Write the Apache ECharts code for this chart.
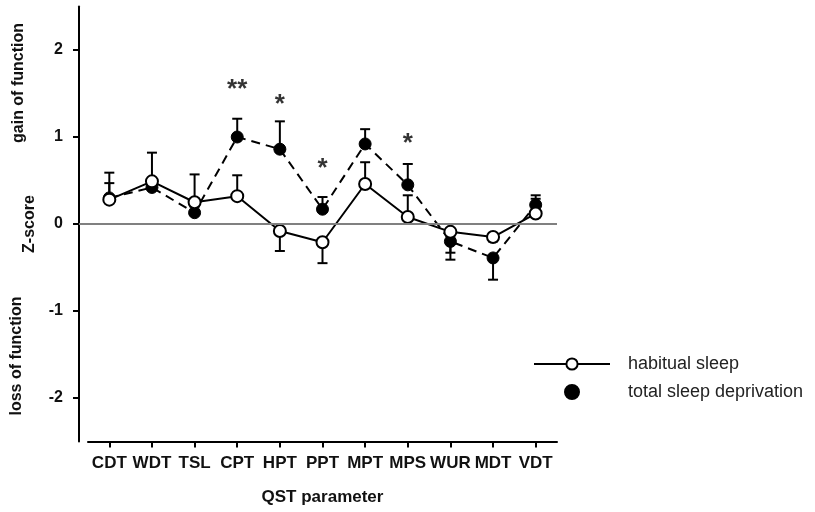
<!DOCTYPE html>
<html>
<head>
<meta charset="utf-8">
<script src="https://cdn.jsdelivr.net/npm/echarts@6/dist/echarts.min.js"></script>
<style>html,body{margin:0;padding:0;background:#fff}#c{width:815px;height:512px}</style>
</head>
<body>
<div id="c"></div>
<script>
const categories = ['CDT','WDT','TSL','CPT','HPT','PPT','MPT','MPS','WUR','MDT','VDT'];
const habitual = [0.28,0.49,0.25,0.32,-0.08,-0.21,0.46,0.08,-0.09,-0.15,0.12];
const habitualErr = [0.47,0.82,0.57,0.56,-0.31,-0.45,0.71,0.33,-0.33,-0.20,0.29];
const deprivation = [0.30,0.42,0.13,1.00,0.86,0.17,0.92,0.45,-0.20,-0.39,0.22];
const deprivationErr = [0.59,0.50,0.20,1.21,1.18,0.31,1.09,0.69,-0.41,-0.64,0.33];
const sigMarks = ['','','','**','*','*','','*','','',''];
const sigLevel = [null,null,null,1.61,1.44,0.70,null,0.99,null,null,null];
const yTicks = [-2,-1,0,1,2];
const yMin = -2.5, yMax = 2.5;

const FONT = 'Liberation Sans, Arial, sans-serif';

function errRender(params, api) {
  const x = api.value(0), m = api.value(1), e = api.value(2);
  const p0 = api.coord([x, m]);
  const p1 = api.coord([x, e]);
  const half = 5;
  return {
    type: 'group',
    children: [
      {type: 'line', shape: {x1: p0[0], y1: p0[1], x2: p1[0], y2: p1[1]}, style: {stroke: '#000', lineWidth: 2}},
      {type: 'line', shape: {x1: p1[0] - half, y1: p1[1], x2: p1[0] + half, y2: p1[1]}, style: {stroke: '#000', lineWidth: 2}}
    ]
  };
}

const sigData = [];
sigLevel.forEach((v, i) => {
  if (v !== null) sigData.push({value: [i, v], label: {formatter: sigMarks[i]}});
});

const chart = echarts.init(document.getElementById('c'), null, {renderer: 'canvas'});
chart.setOption({
  animation: false,
  backgroundColor: '#fff',
  textStyle: {fontFamily: FONT},
  grid: [
    {left: 79, right: 258, top: 6.5, height: 435},
    {left: 88, right: 258, top: 6.5, height: 435}
  ],
  xAxis: [
    {gridIndex: 0, type: 'value', min: 0, max: 1, show: false},
    {
      gridIndex: 1, type: 'category', data: categories, boundaryGap: true, position: 'bottom',
      axisLine: {show: true, onZero: false, lineStyle: {color: '#000', width: 2}},
      axisTick: {show: true, alignWithLabel: true, length: 6, lineStyle: {color: '#000', width: 2}},
      axisLabel: {color: '#111', fontWeight: 'bold', fontSize: 17, margin: 13, fontFamily: FONT, interval: 0},
      name: 'QST parameter', nameLocation: 'middle', nameGap: 47,
      nameTextStyle: {color: '#111', fontWeight: 'bold', fontSize: 17, fontFamily: FONT}
    }
  ],
  yAxis: [
    {
      gridIndex: 0, type: 'value', min: yMin, max: yMax,
      axisLine: {show: true, onZero: false, lineStyle: {color: '#000', width: 2}},
      axisTick: {show: true, length: 6, customValues: yTicks, lineStyle: {color: '#000', width: 2}},
      axisLabel: {customValues: yTicks, color: '#111', fontWeight: 'bold', fontSize: 16, margin: 16, fontFamily: FONT},
      splitLine: {show: false},
      name: 'Z-score', nameLocation: 'middle', nameGap: 36,
      nameTextStyle: {color: '#111', fontWeight: 'bold', fontSize: 16, fontFamily: FONT}
    },
    {gridIndex: 1, type: 'value', min: yMin, max: yMax, show: false}
  ],
  legend: {
    orient: 'vertical', left: 533, top: 355, itemWidth: 76, itemHeight: 14, itemGap: 10, padding: 0,
    textStyle: {color: '#222', fontSize: 18, fontFamily: FONT, padding: [0, 0, 0, 13]},
    data: [{name: 'habitual sleep'}, {name: 'total sleep deprivation', icon: 'circle'}]
  },
  graphic: [
    {type: 'text', x: 19, y: 83, rotation: Math.PI / 2,
     style: {text: 'gain of function', fill: '#111', font: 'bold 16px ' + FONT, textAlign: 'center', textVerticalAlign: 'middle'}},
    {type: 'text', x: 17, y: 356, rotation: Math.PI / 2,
     style: {text: 'loss of function', fill: '#111', font: 'bold 16px ' + FONT, textAlign: 'center', textVerticalAlign: 'middle'}}
  ],
  series: [
    {
      type: 'line', xAxisIndex: 0, yAxisIndex: 0, data: [], silent: true,
      markLine: {symbol: 'none', silent: true, label: {show: false}, lineStyle: {color: '#808080', width: 2, type: 'solid'}, data: [{yAxis: 0}]}
    },
    {
      type: 'custom', xAxisIndex: 1, yAxisIndex: 1, renderItem: errRender, z: 1,
      encode: {x: 0, y: [1, 2]},
      data: categories.map((c, i) => [i, habitual[i], habitualErr[i]])
    },
    {
      type: 'custom', xAxisIndex: 1, yAxisIndex: 1, renderItem: errRender, z: 1,
      encode: {x: 0, y: [1, 2]},
      data: categories.map((c, i) => [i, deprivation[i], deprivationErr[i]])
    },
    {
      name: 'total sleep deprivation', type: 'line', xAxisIndex: 1, yAxisIndex: 1, z: 3,
      data: deprivation, symbol: 'circle', symbolSize: 12,
      lineStyle: {color: '#000', width: 2, type: [9, 6]},
      itemStyle: {color: '#000', borderColor: '#000', borderWidth: 1}
    },
    {
      name: 'habitual sleep', type: 'line', xAxisIndex: 1, yAxisIndex: 1, z: 4,
      data: habitual, symbol: 'circle', symbolSize: 12, showAllSymbol: true,
      lineStyle: {color: '#000', width: 2, type: 'solid'},
      itemStyle: {color: '#fff', borderColor: '#000', borderWidth: 2}
    },
    {
      type: 'scatter', xAxisIndex: 1, yAxisIndex: 1, z: 5, silent: true,
      symbolSize: 2, itemStyle: {color: 'rgba(0,0,0,0)'},
      data: sigData,
      label: {show: true, position: 'inside', color: '#000', fontWeight: 'bold', fontSize: 26, fontFamily: FONT, offset: [0, 6]}
    }
  ]
});
</script>
</body>
</html>
